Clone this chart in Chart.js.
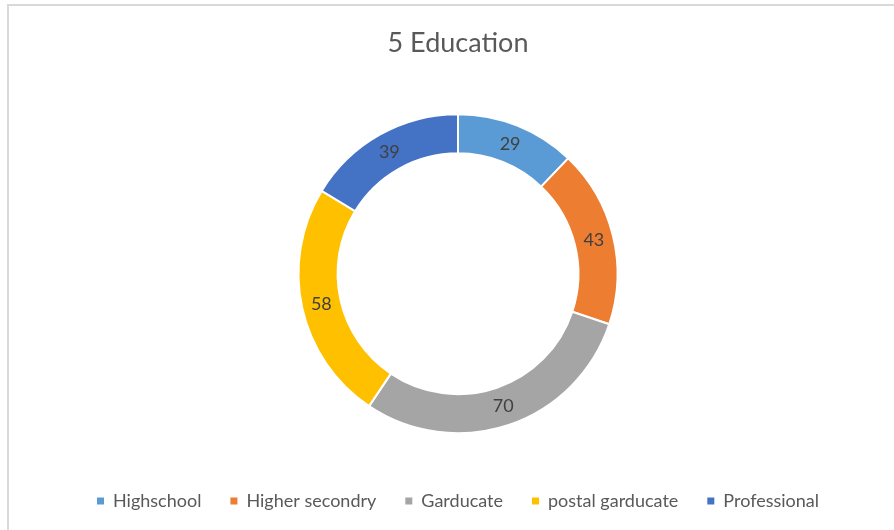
<!DOCTYPE html>
<html>
<head>
<meta charset="utf-8">
<script src="https://cdn.jsdelivr.net/npm/chart.js@4.4.1/dist/chart.umd.min.js"></script>
<style>
  html, body { margin: 0; padding: 0; background: #ffffff; }
  #frame { position: absolute; left: 7px; top: 4px; width: 900px; height: 540px; border: 2px solid #d9d9d9; box-sizing: border-box; }
  #c { position: absolute; left: 0; top: 0; }
</style>
</head>
<body>
<div id="frame"></div>
<canvas id="c" width="894" height="530"></canvas>
<script>
const chartTitle = "5 Education";
const categories = ["Highschool", "Higher secondry", "Garducate", "postal garducate", "Professional"];
const values = [29, 43, 70, 58, 39];
const colors = ["#5B9BD5", "#ED7D31", "#A5A5A5", "#FFC000", "#4472C4"];

const FONT = "Lato, 'Open Sans', sans-serif";

const labelPlugin = {
  id: 'sliceLabels',
  afterDatasetsDraw(chart) {
    const ctx = chart.ctx;
    const meta = chart.getDatasetMeta(0);
    ctx.save();
    ctx.font = "18px " + FONT;
    ctx.fillStyle = "#404040";
    ctx.textAlign = "center";
    ctx.textBaseline = "middle";
    meta.data.forEach((arc, i) => {
      const p = arc.getCenterPoint();
      ctx.fillText(String(chart.data.datasets[0].data[i]), p.x, p.y);
    });
    ctx.restore();
  }
};

new Chart(document.getElementById('c'), {
  type: 'doughnut',
  data: {
    labels: categories,
    datasets: [{
      data: values,
      backgroundColor: colors,
      borderColor: '#ffffff',
      borderWidth: 2,
      hoverOffset: 0
    }]
  },
  options: {
    responsive: false,
    animation: false,
    radius: 159.5,
    cutout: '75.5%',
    layout: { padding: { left: 22, right: 0, top: 0, bottom: 10 } },
    plugins: {
      title: {
        display: true,
        text: chartTitle,
        color: '#595959',
        font: { family: FONT, size: 27, weight: 'normal' },
        padding: { top: 27, bottom: 25 }
      },
      legend: {
        display: true,
        position: 'bottom',
        labels: {
          color: '#595959',
          font: { family: FONT, size: 18 },
          boxWidth: 7,
          boxHeight: 7,
          padding: 29,
          generateLabels(chart) {
            const items = Chart.overrides.doughnut.plugins.legend.labels.generateLabels(chart);
            items.forEach(it => { it.lineWidth = 0; it.strokeStyle = it.fillStyle; });
            return items;
          }
        }
      },
      tooltip: { enabled: false }
    }
  },
  plugins: [labelPlugin]
});
</script>
</body>
</html>
